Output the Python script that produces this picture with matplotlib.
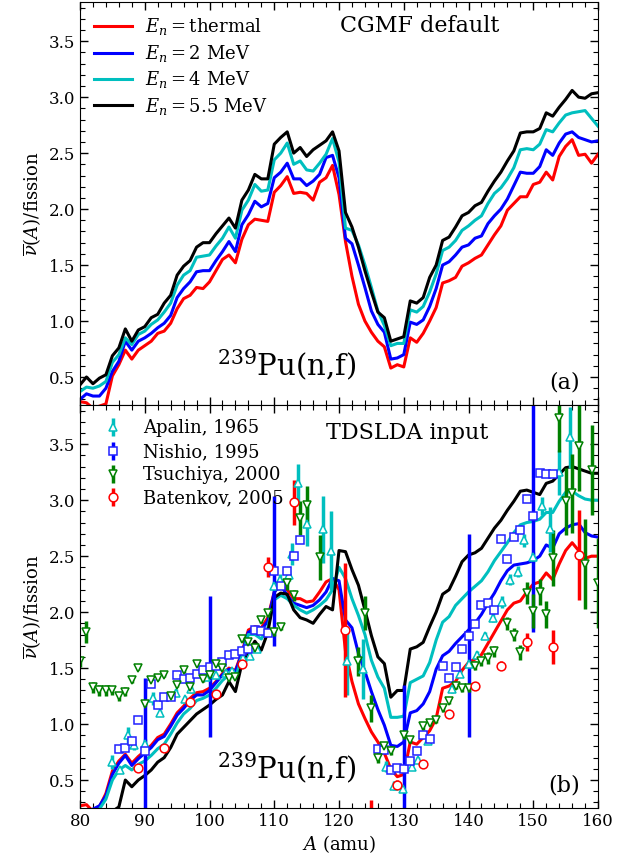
import matplotlib
matplotlib.use('Agg')
import matplotlib.pyplot as plt
from matplotlib.ticker import MultipleLocator

plt.rcParams['font.family'] = ['DejaVu Serif']
plt.rcParams['mathtext.fontset'] = 'dejavuserif'

# fragment mass grid
A = list(range(80, 161))

# ---- panel (a): CGMF default ----
cgmf_thermal = [0.28, 0.27, 0.22, 0.24, 0.26, 0.51, 0.61, 0.74, 0.66, 0.74,
                0.78, 0.82, 0.89, 0.91, 0.98, 1.11, 1.20, 1.23, 1.30, 1.29,
                1.35, 1.45, 1.55, 1.59, 1.52, 1.73, 1.86, 1.91, 1.90, 1.89,
                2.15, 2.21, 2.29, 2.14, 2.15, 2.14, 2.08, 2.24, 2.28, 2.39,
                2.13, 1.71, 1.40, 1.15, 1.00, 0.90, 0.82, 0.77, 0.58, 0.61,
                0.59, 0.85, 0.81, 0.89, 1.00, 1.12, 1.34, 1.36, 1.39, 1.49,
                1.52, 1.56, 1.59, 1.68, 1.77, 1.85, 1.99, 2.05, 2.11, 2.11,
                2.22, 2.24, 2.33, 2.26, 2.47, 2.56, 2.62, 2.48, 2.49, 2.41,
                2.49]
cgmf_2mev = [0.30, 0.35, 0.33, 0.33, 0.40, 0.55, 0.64, 0.82, 0.74, 0.82,
             0.85, 0.89, 0.94, 0.98, 1.05, 1.21, 1.29, 1.35, 1.44, 1.45,
             1.45, 1.54, 1.62, 1.71, 1.62, 1.86, 1.95, 2.07, 2.02, 2.05,
             2.28, 2.33, 2.41, 2.27, 2.27, 2.21, 2.25, 2.31, 2.46, 2.48,
             2.28, 1.74, 1.69, 1.50, 1.30, 1.09, 0.97, 0.90, 0.66, 0.67,
             0.70, 0.99, 0.97, 1.01, 1.13, 1.29, 1.50, 1.53, 1.59, 1.66,
             1.68, 1.74, 1.76, 1.87, 1.94, 2.00, 2.09, 2.21, 2.33, 2.32,
             2.32, 2.38, 2.53, 2.48, 2.59, 2.67, 2.69, 2.64, 2.62, 2.60,
             2.61]
cgmf_4mev = [0.37, 0.41, 0.40, 0.42, 0.46, 0.63, 0.70, 0.85, 0.79, 0.88,
             0.91, 0.97, 1.01, 1.08, 1.16, 1.32, 1.41, 1.45, 1.57, 1.58,
             1.59, 1.67, 1.74, 1.84, 1.74, 1.99, 2.08, 2.22, 2.16, 2.17,
             2.44, 2.50, 2.59, 2.40, 2.43, 2.35, 2.34, 2.41, 2.49, 2.63,
             2.42, 1.83, 1.81, 1.68, 1.50, 1.30, 1.09, 0.96, 0.78, 0.80,
             0.80, 1.10, 1.08, 1.13, 1.26, 1.42, 1.63, 1.66, 1.72, 1.81,
             1.85, 1.90, 1.94, 2.05, 2.14, 2.19, 2.27, 2.37, 2.53, 2.54,
             2.53, 2.58, 2.71, 2.69, 2.77, 2.84, 2.86, 2.87, 2.88, 2.81,
             2.74]
cgmf_55mev = [0.43, 0.50, 0.44, 0.49, 0.52, 0.69, 0.76, 0.93, 0.82, 0.92,
              0.95, 1.03, 1.06, 1.16, 1.23, 1.41, 1.49, 1.54, 1.66, 1.70,
              1.70, 1.78, 1.85, 1.92, 1.83, 2.08, 2.17, 2.31, 2.27, 2.27,
              2.58, 2.64, 2.69, 2.50, 2.55, 2.47, 2.53, 2.57, 2.61, 2.69,
              2.52, 1.97, 1.84, 1.66, 1.45, 1.26, 1.08, 1.03, 0.82, 0.84,
              0.86, 1.18, 1.16, 1.21, 1.39, 1.50, 1.72, 1.75, 1.84, 1.94,
              1.97, 2.03, 2.06, 2.16, 2.25, 2.33, 2.43, 2.52, 2.68, 2.69,
              2.69, 2.72, 2.86, 2.83, 2.91, 2.98, 3.06, 3.00, 2.99, 3.03,
              3.04]

# ---- panel (b): TDSLDA input ----
td_thermal = [0.27, 0.28, 0.22, 0.26, 0.38, 0.58, 0.67, 0.73, 0.65, 0.71,
              0.76, 0.81, 0.88, 0.91, 1.00, 1.10, 1.16, 1.23, 1.28, 1.29,
              1.32, 1.38, 1.45, 1.50, 1.48, 1.64, 1.84, 1.87, 1.86, 1.95,
              2.18, 2.25, 2.20, 2.12, 2.12, 2.09, 2.10, 2.18, 2.27, 2.30,
              2.20, 1.65, 1.38, 1.18, 1.05, 0.93, 0.84, 0.74, 0.60, 0.53,
              0.55, 0.84, 0.82, 0.88, 0.94, 1.05, 1.32, 1.34, 1.38, 1.48,
              1.55, 1.58, 1.62, 1.72, 1.82, 1.92, 2.02, 2.08, 2.10, 2.18,
              2.25, 2.27, 2.35, 2.29, 2.43, 2.55, 2.62, 2.55, 2.48, 2.50,
              2.50]
td_2mev = [0.20, 0.22, 0.24, 0.27, 0.36, 0.55, 0.65, 0.72, 0.63, 0.69,
           0.74, 0.79, 0.86, 0.89, 0.98, 1.08, 1.14, 1.21, 1.26, 1.26,
           1.30, 1.37, 1.44, 1.49, 1.47, 1.63, 1.82, 1.85, 1.84, 1.92,
           2.18, 2.24, 2.15, 2.08, 2.06, 2.04, 2.06, 2.11, 2.18, 2.30,
           2.28, 1.93, 1.86, 1.63, 1.47, 1.29, 1.13, 0.99, 0.81, 0.80,
           0.84, 1.10, 1.12, 1.18, 1.29, 1.49, 1.61, 1.65, 1.72, 1.78,
           1.84, 1.90, 1.98, 2.08, 2.17, 2.28, 2.37, 2.42, 2.43, 2.44,
           2.46, 2.50, 2.60, 2.57, 2.70, 2.75, 2.78, 2.79, 2.71, 2.68,
           2.67]
td_4mev = [0.15, 0.18, 0.20, 0.24, 0.33, 0.50, 0.59, 0.63, 0.59, 0.64,
           0.67, 0.72, 0.78, 0.82, 0.91, 1.01, 1.09, 1.14, 1.21, 1.23,
           1.26, 1.32, 1.39, 1.44, 1.41, 1.60, 1.80, 1.80, 1.76, 1.86,
           2.11, 2.15, 2.12, 2.06, 2.02, 1.99, 2.02, 2.06, 2.11, 2.20,
           2.40, 2.30, 2.12, 1.97, 1.80, 1.57, 1.42, 1.32, 1.06, 1.06,
           1.07, 1.37, 1.40, 1.43, 1.55, 1.75, 1.91, 1.96, 2.06, 2.12,
           2.18, 2.23, 2.28, 2.36, 2.46, 2.54, 2.62, 2.71, 2.78, 2.80,
           2.81, 2.83, 2.89, 2.89, 2.99, 3.07, 3.08, 3.04, 3.01, 3.00,
           3.00]
td_55mev = [0.05, 0.05, 0.08, 0.12, 0.16, 0.22, 0.26, 0.50, 0.44, 0.50,
            0.54, 0.59, 0.66, 0.70, 0.79, 0.91, 0.97, 1.03, 1.09, 1.13,
            1.17, 1.22, 1.26, 1.38, 1.29, 1.54, 1.64, 1.74, 1.66, 1.82,
            2.13, 2.17, 2.16, 2.02, 1.95, 1.93, 1.90, 1.98, 2.05, 2.02,
            2.55, 2.54, 2.38, 2.24, 2.02, 1.79, 1.60, 1.54, 1.24, 1.30,
            1.30, 1.67, 1.69, 1.73, 1.87, 2.00, 2.16, 2.20, 2.32, 2.45,
            2.51, 2.53, 2.57, 2.66, 2.75, 2.82, 2.91, 2.99, 3.08, 3.09,
            3.07, 3.05, 3.15, 3.17, 3.23, 3.29, 3.30, 3.28, 3.26, 3.24,
            3.24]

energy_labels = [r'$E_n=$thermal', r'$E_n=2$ MeV', r'$E_n=4$ MeV', r'$E_n=5.5$ MeV']
curve_colors = ['#ff0000', '#0000ff', '#00bfbf', '#000000']

# ---- experimental data ----
apalin_A = [85.0, 86.2, 87.4, 88.3, 90.0, 91.2, 92.4, 94.9, 96.2, 97.2,
            99.5, 101.0, 102.5, 103.4, 105.2, 106.2, 107.3, 109.9, 110.9, 112.2,
            112.7, 113.7, 115.0, 117.6, 118.7, 121.2, 123.7, 127.3, 128.5, 129.9,
            131.2, 132.2, 133.7, 137.5, 138.7, 140.0, 141.3, 142.5, 143.8, 145.1,
            146.4, 147.6, 148.6, 150.0, 151.3, 152.6, 153.9, 155.6]
apalin_v = [0.66, 0.59, 0.90, 0.81, 0.82, 1.23, 1.10, 1.28, 1.22, 1.31,
            1.42, 1.44, 1.46, 1.47, 1.59, 1.61, 1.67, 2.23, 2.29, 2.33,
            2.52, 3.15, 2.79, 2.74, 2.55, 1.56, 1.49, 0.62, 0.45, 0.42,
            0.62, 0.68, 0.85, 1.31, 1.45, 1.54, 1.62, 1.79, 1.95, 2.09,
            2.29, 2.36, 2.64, 2.49, 2.95, 2.74, 3.25, 3.56]
apalin_e = [0.06, 0.03, 0.07, 0.04, 0.05, 0.06, 0.03, 0.03, 0.03, 0.03,
            0.02, 0.02, 0.02, 0.02, 0.02, 0.02, 0.03, 0.04, 0.05, 0.05,
            0.10, 0.17, 0.20, 0.30, 0.35, 0.30, 0.27, 0.05, 0.04, 0.03,
            0.03, 0.03, 0.03, 0.03, 0.03, 0.03, 0.03, 0.03, 0.04, 0.05,
            0.05, 0.05, 0.06, 0.05, 0.08, 0.20, 0.20, 0.27]

nishio_A = [86, 87, 88, 89, 90, 91, 92, 93, 94, 95, 96, 97, 98, 99, 100,
            101, 102, 103, 104, 105, 106, 107, 108, 109, 110, 111, 112, 113, 114,
            126, 127, 128, 129, 130, 131, 132, 133, 134,
            136, 137, 138, 139, 140, 141, 142, 143, 144, 145, 146, 147, 148, 149,
            150, 151, 152, 153]
nishio_v = [0.78, 0.79, 0.85, 1.04, 0.76, 1.36, 1.17, 1.24, 1.24, 1.44, 1.40, 1.41, 1.45, 1.48, 1.51,
            1.52, 1.55, 1.62, 1.63, 1.65, 1.67, 1.84, 1.83, 1.81, 2.37, 2.23, 2.37, 2.50, 2.64,
            0.78, 0.77, 0.59, 0.61, 0.60, 0.67, 0.76, 0.90, 0.87,
            1.52, 1.41, 1.51, 1.67, 1.79, 1.89, 2.06, 2.08, 2.02, 2.65, 2.47, 2.67, 2.73, 3.01,
            2.86, 3.24, 3.23, 3.23]
nishio_e = [0.02, 0.02, 0.02, 0.02, 0.65, 0.02, 0.02, 0.02, 0.02, 0.02, 0.02, 0.02, 0.02, 0.02, 0.63,
            0.02, 0.02, 0.02, 0.02, 0.02, 0.02, 0.02, 0.02, 0.02, 0.67, 0.02, 0.02, 0.02, 0.02,
            0.02, 0.02, 0.02, 0.02, 0.75, 0.02, 0.02, 0.02, 0.02,
            0.02, 0.02, 0.02, 0.02, 0.91, 0.02, 0.02, 0.02, 0.02, 0.02, 0.02, 0.02, 0.02, 0.02,
            1.04, 0.02, 0.02, 0.02]

tsuchiya_A = [80, 81, 82, 83, 84, 85, 86, 87, 88, 89, 90, 91, 92, 93, 94, 95, 96, 97, 98, 99,
              100, 101, 102, 103, 104, 105, 106, 107, 108, 109, 110, 111, 112, 113, 114, 115, 117,
              123, 124, 125, 126, 127, 128, 130, 131, 133, 134, 135, 136, 137, 138, 139, 140,
              141, 142, 143, 144, 146, 147, 148, 149, 150, 151, 152, 153, 154, 155, 156, 157,
              158, 159, 160]
tsuchiya_v = [1.56, 1.82, 1.33, 1.30, 1.30, 1.30, 1.25, 1.29, 1.39, 1.50, 1.18, 1.39, 1.41, 1.44, 1.25,
              1.35, 1.48, 1.33, 1.54, 1.40,
              1.44, 1.54, 1.50, 1.41, 1.42, 1.76, 1.73, 1.68, 1.93, 1.99, 1.82, 1.87, 2.26, 2.15, 2.84,
              2.96, 2.49,
              1.56, 1.99, 1.14, 0.70, 0.80, 0.76, 0.90, 0.86, 0.98, 1.01, 1.04, 1.14, 1.21, 1.34, 1.32,
              1.32,
              1.52, 1.56, 1.59, 1.65, 1.90, 1.80, 1.64, 2.17, 2.01, 2.18, 1.98, 2.48, 3.73, 2.99, 3.06,
              3.48,
              2.43, 3.27, 2.26]
tsuchiya_e = [0.05, 0.10, 0.05, 0.05, 0.05, 0.04, 0.04, 0.04, 0.02, 0.02, 0.02, 0.02, 0.02, 0.02, 0.02,
              0.02, 0.02, 0.02, 0.02, 0.02,
              0.02, 0.02, 0.02, 0.02, 0.02, 0.03, 0.03, 0.03, 0.03, 0.03, 0.03, 0.03, 0.06, 0.05, 0.15,
              0.17, 0.20,
              0.13, 0.15, 0.12, 0.05, 0.04, 0.04, 0.03, 0.03, 0.03, 0.03, 0.03, 0.03, 0.03, 0.03, 0.03,
              0.03,
              0.04, 0.04, 0.05, 0.05, 0.06, 0.06, 0.07, 0.10, 0.15, 0.12, 0.12, 0.25, 0.30, 0.30, 0.35,
              0.40,
              0.40, 0.40, 0.40]

batenkov_A = [89, 93, 97, 101, 105, 109, 113, 121, 125, 129, 133, 137, 141, 145, 149, 153, 157]
batenkov_v = [0.61, 0.79, 1.20, 1.27, 1.54, 2.40, 2.98, 1.84, 0.10, 0.46, 0.64, 1.09, 1.34, 1.52,
              1.73, 1.69, 2.51]
batenkov_e = [0.03, 0.03, 0.03, 0.03, 0.03, 0.09, 0.20, 0.60, 0.22, 0.04, 0.03, 0.03, 0.03, 0.04,
              0.08, 0.15, 0.40]

fig = plt.figure(figsize=(6.36, 8.63), dpi=100)
axa = fig.add_axes([0.1258, 0.5307, 0.8145, 0.4670])
axb = fig.add_axes([0.1258, 0.0637, 0.8145, 0.4670])

LW = 2.2
for ys, c, lab in zip([cgmf_thermal, cgmf_2mev, cgmf_4mev, cgmf_55mev], curve_colors, energy_labels):
    axa.plot(A, ys, color=c, lw=LW, label=lab)
for ys, c in zip([td_thermal, td_2mev, td_4mev, td_55mev], curve_colors):
    axb.plot(A, ys, color=c, lw=LW)

ekw = dict(capsize=0, ms=6.3, mew=1.1, mfc='white', elinewidth=2.5, ls='none')
h1 = axb.errorbar(apalin_A, apalin_v, yerr=apalin_e, fmt='^', color='#00bfbf', mec='#00bfbf',
                  label='Apalin, 1965', **ekw)
h2 = axb.errorbar(nishio_A, nishio_v, yerr=nishio_e, fmt='s', color='#0000ff', mec='#2020ff',
                  label='Nishio, 1995', **ekw)
h3 = axb.errorbar(tsuchiya_A, tsuchiya_v, yerr=tsuchiya_e, fmt='v', color='#008000', mec='#008000',
                  label='Tsuchiya, 2000', **ekw)
h4 = axb.errorbar(batenkov_A, batenkov_v, yerr=batenkov_e, fmt='o', color='#ff0000', mec='#ff0000',
                  label='Batenkov, 2005', **ekw)

for ax in (axa, axb):
    ax.set_xlim(80, 160)
    ax.set_ylim(0.25, 3.85)
    ax.xaxis.set_major_locator(MultipleLocator(10))
    ax.xaxis.set_minor_locator(MultipleLocator(2))
    ax.yaxis.set_major_locator(MultipleLocator(0.5))
    ax.yaxis.set_minor_locator(MultipleLocator(0.1))
    ax.tick_params(which='both', direction='in', top=True, right=True, labelsize=12)
    ax.tick_params(which='major', length=6, width=1)
    ax.tick_params(which='minor', length=3.5, width=0.8)
    ax.set_ylabel(r'$\overline{\nu}(A)$/fission', fontsize=13)
    ax.text(0.40, 0.10, r'$^{239}$Pu(n,f)', transform=ax.transAxes, fontsize=21,
            ha='center', va='center')

axa.tick_params(labelbottom=False)
axb.set_xlabel(r'$A$ (amu)', fontsize=13, labelpad=2)

axa.text(0.935, 0.055, '(a)', transform=axa.transAxes, fontsize=16, ha='center', va='center')
axb.text(0.935, 0.055, '(b)', transform=axb.transAxes, fontsize=16, ha='center', va='center')
axa.text(0.655, 0.94, 'CGMF default', transform=axa.transAxes, fontsize=16, ha='center', va='center')
axb.text(0.632, 0.93, 'TDSLDA input', transform=axb.transAxes, fontsize=16, ha='center', va='center')

axa.legend(loc='upper left', frameon=False, fontsize=13, handlelength=2.1, handletextpad=0.7,
           labelspacing=0.3, borderaxespad=0.5, borderpad=0.3)
axb.legend(handles=[h1, h2, h3, h4], loc='upper left', frameon=False, fontsize=13,
           handlelength=2.0, handletextpad=0.7, labelspacing=0.3, borderaxespad=0.5, borderpad=0.3)

fig.savefig('out.png', dpi=100)
